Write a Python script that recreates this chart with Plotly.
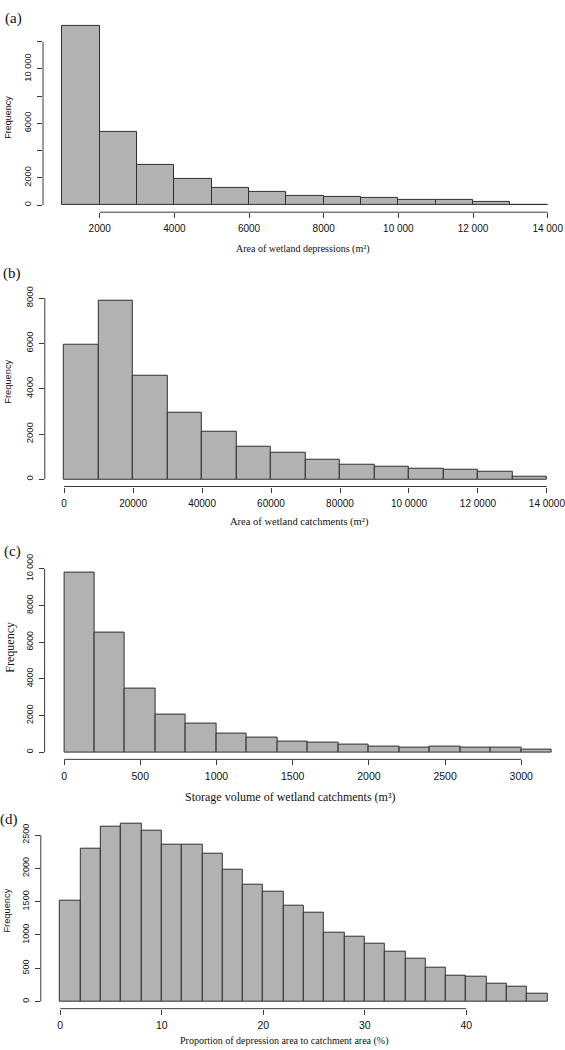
import plotly.graph_objects as go

# ---------------- data ----------------
# (a) Area of wetland depressions (m2), bins of 1000 starting at 1000
a_left = [1000, 2000, 3000, 4000, 5000, 6000, 7000, 8000, 9000, 10000, 11000, 12000, 13000]
a_counts = [13150, 5400, 2930, 1890, 1260, 970, 700, 580, 490, 390, 340, 240, 30]
a_xticks = [2000, 4000, 6000, 8000, 10000, 12000, 14000]
a_xtext = ["2000", "4000", "6000", "8000", "10 000", "12 000", "14 000"]
a_yticks = [0, 2000, 4000, 6000, 8000, 10000, 12000]
a_ytext = ["0", "2000", "", "6000", "", "10 000", ""]

# (b) Area of wetland catchments (m2), bins of 10000
b_left = [0, 10000, 20000, 30000, 40000, 50000, 60000, 70000, 80000, 90000, 100000, 110000, 120000, 130000]
b_counts = [5950, 7880, 4590, 2930, 2120, 1430, 1180, 870, 660, 570, 470, 420, 340, 110]
b_xticks = [0, 20000, 40000, 60000, 80000, 100000, 120000, 140000]
b_xtext = ["0", "20000", "40000", "60000", "80000", "10 0000", "12 0000", "14 0000"]
b_yticks = [0, 2000, 4000, 6000, 8000]
b_ytext = ["0", "2000", "4000", "6000", "8000"]

# (c) Storage volume of wetland catchments (m3), bins of 200
c_left = [0, 200, 400, 600, 800, 1000, 1200, 1400, 1600, 1800, 2000, 2200, 2400, 2600, 2800, 3000]
c_counts = [9780, 6500, 3440, 2070, 1550, 1010, 790, 600, 500, 430, 325, 275, 300, 260, 225, 115]
c_xticks = [0, 500, 1000, 1500, 2000, 2500, 3000]
c_xtext = ["0", "500", "1000", "1500", "2000", "2500", "3000"]
c_yticks = [0, 2000, 4000, 6000, 8000, 10000]
c_ytext = ["0", "2000", "4000", "6000", "8000", "10 000"]

# (d) Proportion of depression area to catchment area (%), bins of 2
d_left = [0, 2, 4, 6, 8, 10, 12, 14, 16, 18, 20, 22, 24, 26, 28, 30, 32, 34, 36, 38, 40, 42, 44, 46]
d_counts = [1520, 2290, 2630, 2670, 2560, 2360, 2350, 2220, 1975, 1750, 1655, 1440, 1330, 1040,
            970, 865, 750, 640, 510, 390, 375, 275, 220, 115]
d_xticks = [0, 10, 20, 30, 40]
d_xtext = ["0", "10", "20", "30", "40"]
d_yticks = [0, 500, 1000, 1500, 2000, 2500]
d_ytext = ["0", "500", "1000", "1500", "2000", "2500"]

panels = [
    dict(left=a_left, counts=a_counts, bw=1000, xt=a_xticks, xtt=a_xtext, yt=a_yticks, ytt=a_ytext,
         xtitle="Area of wetland depressions (m²)", label="(a)"),
    dict(left=b_left, counts=b_counts, bw=10000, xt=b_xticks, xtt=b_xtext, yt=b_yticks, ytt=b_ytext,
         xtitle="Area of wetland catchments (m²)", label="(b)"),
    dict(left=c_left, counts=c_counts, bw=200, xt=c_xticks, xtt=c_xtext, yt=c_yticks, ytt=c_ytext,
         xtitle="Storage volume of wetland catchments (m³)", label="(c)"),
    dict(left=d_left, counts=d_counts, bw=2, xt=d_xticks, xtt=d_xtext, yt=d_yticks, ytt=d_ytext,
         xtitle="Proportion of depression area to catchment area (%)", label="(d)"),
]

# ---------------- layout / style ----------------
W, H = 565, 1050
FILL = "#b2b2b2"
EDGE = "#2f2f2f"
AX = "#3a3a3a"
SANS = "Liberation Sans, Arial, sans-serif"
SERIF = "Liberation Serif, Times New Roman, serif"

# pixel geometry of each plot region: (left, top, bottom)
geom = [(43.0, 7.0, 202.5), (44.8, 285.0, 480.0), (44.6, 560.0, 756.0), (40.8, 814.0, 1008.2)]
xranges = [[480, 14464], [-5600, 145244], [-128, 3287], [-1.92, 49.73]]
ytick_sizes = [9.3, 9.5, 8.8, 9.0]
xtick_sizes = [10, 10, 10.5, 10.5]
xtitle_sizes = [10, 10.5, 12, 10]
xtitle_pos = [(303, 240), (299, 516), (290, 794), (284, 1041)]
freq_pos = [(8, 107), (8, 374), (10, 643), (7, 909)]
freq_fonts = [(SANS, 9), (SANS, 9.3), (SERIF, 12), (SANS, 9.3)]
label_pos = [(13, 7), (12, 265), (12, 546), (9, 817)]

fig = go.Figure()
layout = dict(width=W, height=H, margin=dict(l=0, r=0, t=0, b=0),
              paper_bgcolor="white", plot_bgcolor="white", showlegend=False, bargap=0)
shapes = []
annotations = []

for i, p in enumerate(panels):
    n = "" if i == 0 else str(i + 1)
    xa, ya = "x" + n, "y" + n
    L, T, B = geom[i]
    ymax = max(p["counts"])
    fig.add_trace(go.Bar(x=p["left"], y=p["counts"], width=p["bw"], offset=0,
                         marker=dict(color=FILL, line=dict(color=EDGE, width=1)),
                         xaxis=xa, yaxis=ya, hoverinfo="x+y"))
    layout["xaxis" + n] = dict(domain=[L / W, 1.0], range=xranges[i], anchor=ya,
                               showgrid=False, zeroline=False, showline=False,
                               ticks="outside", ticklen=5, tickwidth=1, tickcolor=AX,
                               tickvals=p["xt"], ticktext=p["xtt"], ticklabelstandoff=2,
                               ticklabeloverflow="allow",
                               tickfont=dict(family=SANS, size=xtick_sizes[i], color="#111"))
    layout["yaxis" + n] = dict(domain=[1 - B / H, 1 - T / H], range=[-0.04 * ymax, 1.04 * ymax],
                               anchor=xa, showgrid=False, zeroline=False, showline=False,
                               ticks="outside", ticklen=5, tickwidth=1, tickcolor=AX,
                               tickvals=p["yt"], ticktext=p["ytt"], tickangle=-90,
                               ticklabelstandoff=2, ticklabeloverflow="allow",
                               tickfont=dict(family=SANS, size=ytick_sizes[i], color="#111"))
    # R-style axis lines spanning first to last tick
    shapes.append(dict(type="line", xref=xa, yref=ya + " domain", x0=p["xt"][0], x1=p["xt"][-1],
                       y0=0, y1=0, line=dict(color=AX, width=1)))
    shapes.append(dict(type="line", xref=xa + " domain", yref=ya, x0=0, x1=0,
                       y0=p["yt"][0], y1=p["yt"][-1], line=dict(color=AX, width=1)))
    tx, ty = xtitle_pos[i]
    annotations.append(dict(text=p["xtitle"], xref="paper", yref="paper", x=tx / W, y=1 - ty / H,
                            xanchor="center", yanchor="middle", showarrow=False,
                            font=dict(family=SERIF, size=xtitle_sizes[i], color="#111")))
    fx, fy = freq_pos[i]
    ff, fs = freq_fonts[i]
    annotations.append(dict(text="Frequency", xref="paper", yref="paper", x=fx / W, y=1 - fy / H,
                            xanchor="center", yanchor="middle", showarrow=False, textangle=-90,
                            font=dict(family=ff, size=fs, color="#111")))
    lx, ly = label_pos[i]
    annotations.append(dict(text=p["label"], xref="paper", yref="paper", x=lx / W, y=1 - ly / H,
                            xanchor="center", yanchor="middle", showarrow=False,
                            font=dict(family=SERIF, size=15, color="#111")))

layout["shapes"] = shapes
layout["annotations"] = annotations
fig.update_layout(**layout)
fig.write_html("out.html",
               config={"displayModeBar": False},
               post_script="document.body.style.margin='0';document.body.style.padding='0';"
                           "document.body.style.overflow='hidden';"
                           "document.documentElement.style.overflow='hidden';")
